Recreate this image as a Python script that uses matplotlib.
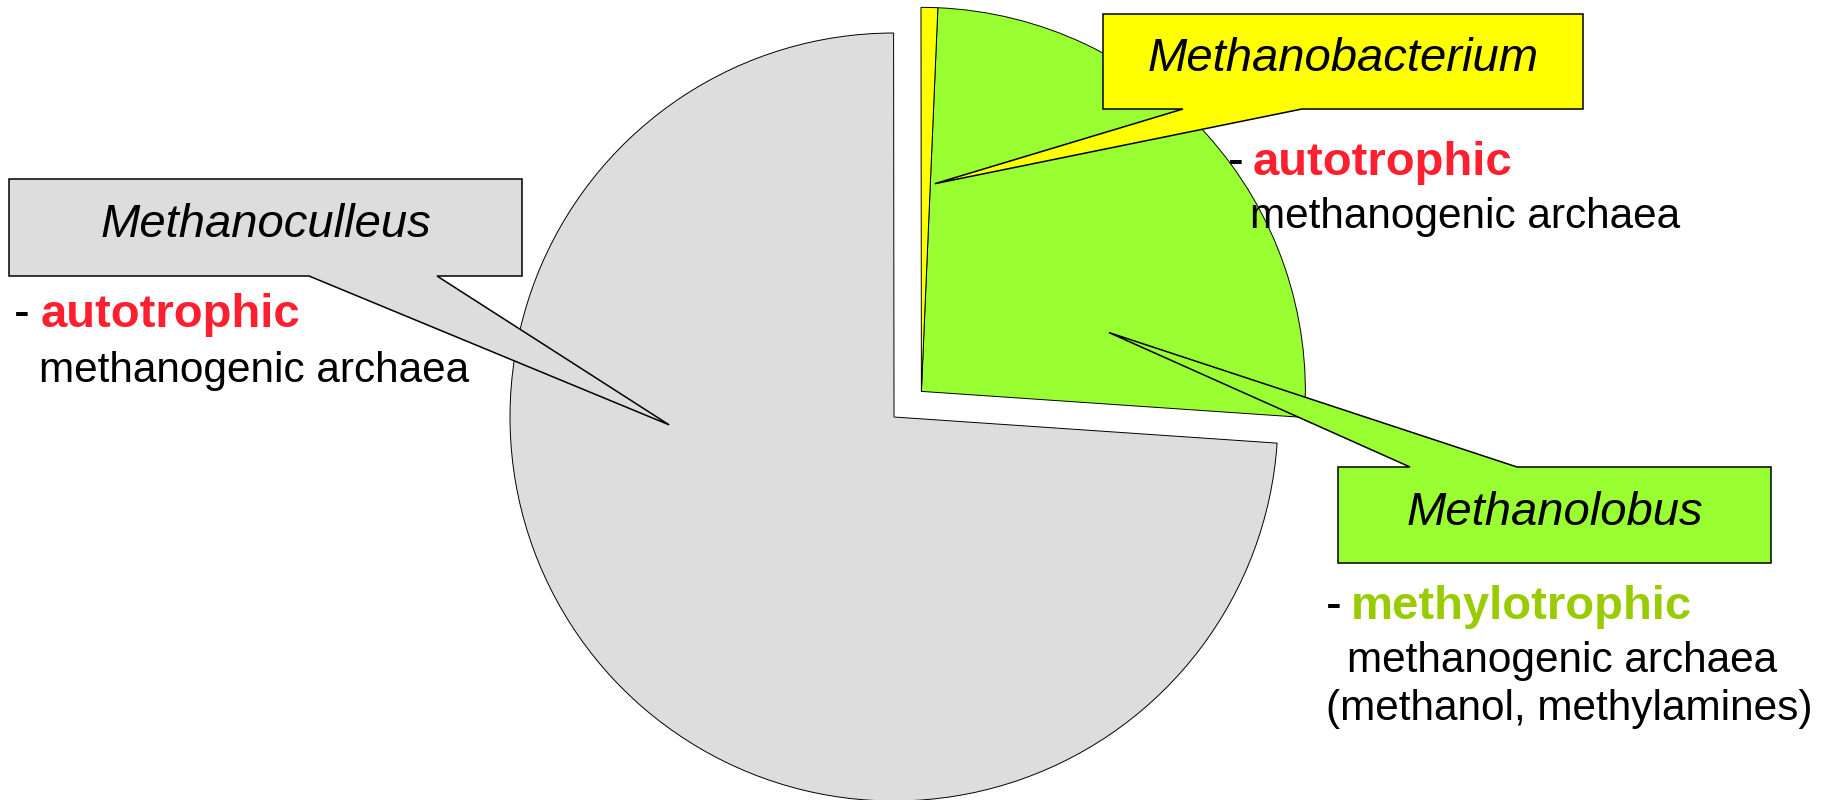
"""
Pie of methanogen genera with PowerPoint-style callout labels.
"""
import numpy as np
import matplotlib.pyplot as plt
from matplotlib.patches import Polygon

W, H = 1825, 800
plt.rcParams["font.family"] = ["Liberation Sans", "DejaVu Sans"]

# --- data (share in %) ---
genera = ["Methanolobus", "Methanobacterium", "Methanoculleus"]
shares = [25.4, 0.7, 73.9]
colors = ["#99FF33", "#FFFF00", "#DDDDDD"]
pulled = [True, True, False]          # green + yellow are pulled out together

trophy = ["methylotrophic", "autotrophic", "autotrophic"]
trophy_colors = ["#99CC00", "#FF1F2F", "#FF1F2F"]
details = [["methanogenic archaea", "(methanol, methylamines)"],
           ["methanogenic archaea"],
           ["methanogenic archaea"]]

# --- layout (image pixels, y downwards) ---
PIE_C = (894, 417)
PIE_R = 384
PULL = 37.5
# box: left, top, right, bottom; pointer side, base x1, x2; tip (radius frac, angle)
boxes = {
    "Methanolobus":     dict(box=(1338, 467, 1771, 563), side="top",
                             base=(1410, 1517), tip=(0.512, 17.4), title_y=525),
    "Methanobacterium": dict(box=(1103, 14, 1583, 109), side="bottom",
                             base=(1183, 1302), tip=(0.542, 86.3), title_y=71),
    "Methanoculleus":   dict(box=(9, 179, 522, 276), side="bottom",
                             base=(309, 437), tip=(0.586, 182.0), title_y=237),
}
# text blocks: dash x, word x, first baseline, detail x list, detail baselines
blocks = {
    "Methanolobus":     dict(dash=1326, word=1351, y=619, dx=[1347, 1326], dy=[672, 720]),
    "Methanobacterium": dict(dash=1228, word=1253, y=175, dx=[1250], dy=[228]),
    "Methanoculleus":   dict(dash=14, word=41, y=327, dx=[39], dy=[382]),
}


def Y(y):
    return H - y


fig = plt.figure(figsize=(W / 100, H / 100), dpi=100)
ax = fig.add_axes([0, 0, 1, 1])

wedges, _ = ax.pie(shares, colors=colors, startangle=-3.9, counterclock=True,
                   radius=PIE_R, center=(PIE_C[0], Y(PIE_C[1])),
                   wedgeprops=dict(edgecolor="black", linewidth=0.7))

# pull the small wedges out as one group, along the group's mid angle
grp = [w for w, p in zip(wedges, pulled) if p]
mid = np.deg2rad((grp[0].theta1 + grp[-1].theta2) / 2)
for w in grp:
    w.set_center((PIE_C[0] + PULL * np.cos(mid), Y(PIE_C[1]) + PULL * np.sin(mid)))

for name, w in zip(genera, wedges):
    b = boxes[name]
    L, T, Rr, B = b["box"]
    frac, ang = b["tip"]
    wx, wy = w.center
    tip = (wx + frac * PIE_R * np.cos(np.deg2rad(ang)),
           wy + frac * PIE_R * np.sin(np.deg2rad(ang)))
    x1, x2 = b["base"]
    if b["side"] == "bottom":
        pts = [(L, Y(T)), (Rr, Y(T)), (Rr, Y(B)), (x2, Y(B)), tip,
               (x1, Y(B)), (L, Y(B))]
    else:
        pts = [(L, Y(T)), (x1, Y(T)), tip, (x2, Y(T)), (Rr, Y(T)),
               (Rr, Y(B)), (L, Y(B))]
    ax.add_patch(Polygon(pts, closed=True, facecolor=w.get_facecolor(),
                         edgecolor="black", linewidth=1.1, zorder=3))
    ax.text((L + Rr) / 2, Y(b["title_y"]), name, fontsize=34, style="italic",
            ha="center", va="baseline", zorder=4)

for name, tr, tc, det in zip(genera, trophy, trophy_colors, details):
    t = blocks[name]
    ax.text(t["dash"], Y(t["y"]), "-", fontsize=34, ha="left", va="baseline",
            zorder=5)
    ax.text(t["word"], Y(t["y"]), tr, fontsize=34, fontweight="bold",
            color=tc, ha="left", va="baseline", zorder=5)
    for s, x, y in zip(det, t["dx"], t["dy"]):
        ax.text(x, Y(y), s, fontsize=30.5, ha="left", va="baseline", zorder=5)

ax.set_xlim(0, W)
ax.set_ylim(0, H)
ax.set_aspect("equal")
ax.axis("off")
fig.savefig("out.png", dpi=100)
